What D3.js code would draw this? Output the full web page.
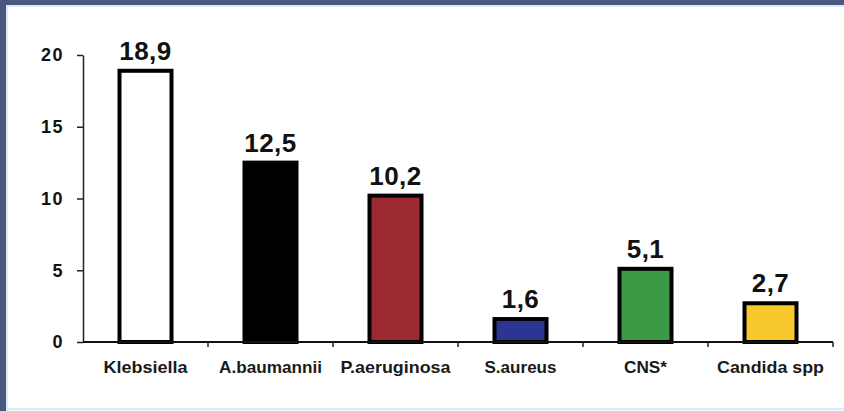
<!DOCTYPE html>
<html>
<head>
<meta charset="utf-8">
<script src="https://cdn.jsdelivr.net/npm/d3@7"></script>
<style>
  html, body { margin: 0; padding: 0; background: #ffffff; }
  svg { display: block; }
</style>
</head>
<body>
<svg id="chart" width="844" height="411"></svg>
<script>
// Pathogen frequencies (%)
const categories = ["Klebsiella", "A.baumannii", "P.aeruginosa", "S.aureus", "CNS*", "Candida spp"];
const values = [18.9, 12.5, 10.2, 1.6, 5.1, 2.7];
const valueLabels = ["18,9", "12,5", "10,2", "1,6", "5,1", "2,7"];
const barColors = ["#ffffff", "#000000", "#9b2b30", "#2c3592", "#3c9a46", "#f8c92c"];
const yTicks = [0, 5, 10, 15, 20];
const labelWidths = [84, 103, 110, 72, 43, 107];

const svg = d3.select("#chart");
const W = 844, H = 411;

// Frame: dark blue top/left border and pale blue inner edge
svg.append("rect").attr("x", 0).attr("y", 0).attr("width", W).attr("height", H).attr("fill", "#4a5880");
svg.append("rect").attr("x", 6).attr("y", 5).attr("width", W - 6).attr("height", H - 5)
  .attr("fill", "#d6ecf9");
svg.append("rect").attr("x", 8).attr("y", 7).attr("width", W - 8).attr("height", 401)
  .attr("fill", "#ffffff");
svg.append("rect").attr("x", 8).attr("y", 410).attr("width", W - 8).attr("height", 1)
  .attr("fill", "#f4fafe");

const x0 = 83, x1 = 833, yTop = 55, yBase = 342;

const x = d3.scaleBand().domain(categories).range([x0, x1]).padding(0);
const y = d3.scaleLinear().domain([0, 20]).range([yBase, yTop]);

const font = "'Liberation Sans', Arial, Helvetica, sans-serif";
const barW = 52;

// Bars
svg.append("g").selectAll("rect").data(categories).join("rect")
  .attr("x", d => x(d) + (x.bandwidth() - barW) / 2)
  .attr("y", (d, i) => y(values[i]))
  .attr("width", barW)
  .attr("height", (d, i) => y(0) - y(values[i]))
  .attr("fill", (d, i) => barColors[i])
  .attr("stroke", "#000")
  .attr("stroke-width", 4);

// Y axis
const yAxis = svg.append("g")
  .attr("transform", `translate(${x0},0)`)
  .call(d3.axisLeft(y).tickValues(yTicks).tickSize(6).tickPadding(13).tickSizeOuter(0));
yAxis.select(".domain").attr("stroke", "#222").attr("stroke-width", 1.5);
yAxis.selectAll(".tick line").attr("stroke", "#222").attr("stroke-width", 1.5);
yAxis.selectAll(".tick text")
  .attr("font-family", font).attr("font-weight", "bold").attr("font-size", 18)
  .attr("letter-spacing", 1.5).attr("fill", "#111");

// X axis: line along zero with ticks at category boundaries
const xAxis = svg.append("g").attr("transform", `translate(0,${y(0)})`);
xAxis.append("line").attr("x1", x0).attr("x2", x1).attr("y1", 0).attr("y2", 0)
  .attr("stroke", "#111").attr("stroke-width", 2);
xAxis.selectAll("line.b").data(categories.slice(1).concat([null])).join("line")
  .attr("class", "b")
  .attr("x1", (d, i) => d ? x(d) : x1)
  .attr("x2", (d, i) => d ? x(d) : x1)
  .attr("y1", 0).attr("y2", 5)
  .attr("stroke", "#222").attr("stroke-width", 1.5);

// Category labels
svg.append("g").selectAll("text").data(categories).join("text")
  .attr("x", d => x(d) + x.bandwidth() / 2)
  .attr("y", 373)
  .attr("text-anchor", "middle")
  .attr("font-family", font).attr("font-weight", "bold").attr("font-size", 17)
  .attr("textLength", (d, i) => labelWidths[i])
  .attr("lengthAdjust", "spacingAndGlyphs")
  .attr("fill", "#1a1a1a")
  .text(d => d);

// Value labels above bars
svg.append("g").selectAll("text").data(categories).join("text")
  .attr("x", d => x(d) + x.bandwidth() / 2)
  .attr("y", (d, i) => y(values[i]) - 11)
  .attr("text-anchor", "middle")
  .attr("font-family", font).attr("font-weight", "bold").attr("font-size", 26)
  .attr("letter-spacing", 0.5)
  .attr("fill", "#111")
  .text((d, i) => valueLabels[i]);
</script>
</body>
</html>
